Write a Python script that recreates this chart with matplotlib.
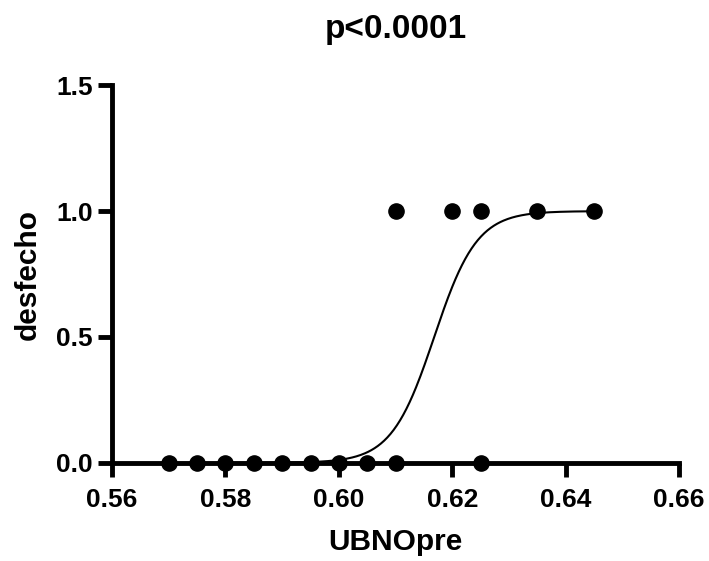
import matplotlib.pyplot as plt
import numpy as np

plt.rcParams['font.family'] = ['Liberation Sans', 'DejaVu Sans']
plt.rcParams['font.weight'] = 'bold'

# observed points
x_zero = [0.570, 0.575, 0.580, 0.585, 0.590, 0.595, 0.600, 0.605, 0.610, 0.625]
x_one = [0.610, 0.620, 0.625, 0.635, 0.645]

# fitted logistic curve
x50 = 0.6168
slope = 265.0
curve_range = (0.570, 0.645)

xticks = [0.56, 0.58, 0.60, 0.62, 0.64, 0.66]
yticks = [0.0, 0.5, 1.0, 1.5]

fig = plt.figure(figsize=(7.09, 5.61), dpi=100)
ax = fig.add_axes((0.158, 0.175, 0.800, 0.673))

xs = np.linspace(curve_range[0], curve_range[1], 400)
ax.plot(xs, 1.0 / (1.0 + np.exp(-slope * (xs - x50))), color='black', lw=1.5, zorder=2)

ax.scatter(x_zero, np.zeros(len(x_zero)), s=120, color='black', zorder=3, clip_on=False)
ax.scatter(x_one, np.ones(len(x_one)), s=120, color='black', zorder=3, clip_on=False)

ax.set_xlim(0.56, 0.66)
ax.set_ylim(0, 1.5)
ax.set_xticks(xticks)
ax.set_xticklabels(['%.2f' % v for v in xticks])
ax.set_yticks(yticks)
ax.set_yticklabels(['%.1f' % v for v in yticks])

for s in ['top', 'right']:
    ax.spines[s].set_visible(False)
for s in ['left', 'bottom']:
    ax.spines[s].set_linewidth(3.5)
ax.tick_params(axis='both', width=3.5, length=10, labelsize=19)
ax.tick_params(axis='x', pad=8)
ax.tick_params(axis='y', pad=4)
for lab in ax.get_xticklabels() + ax.get_yticklabels():
    lab.set_fontweight('bold')

ax.set_xlabel('UBNOpre', fontsize=21.5, fontweight='bold', labelpad=12)
ax.set_ylabel('desfecho', fontsize=21.5, fontweight='bold', labelpad=10)
ax.set_title('p<0.0001', fontsize=24, fontweight='bold', pad=34)

plt.savefig('out.png', dpi=100)
